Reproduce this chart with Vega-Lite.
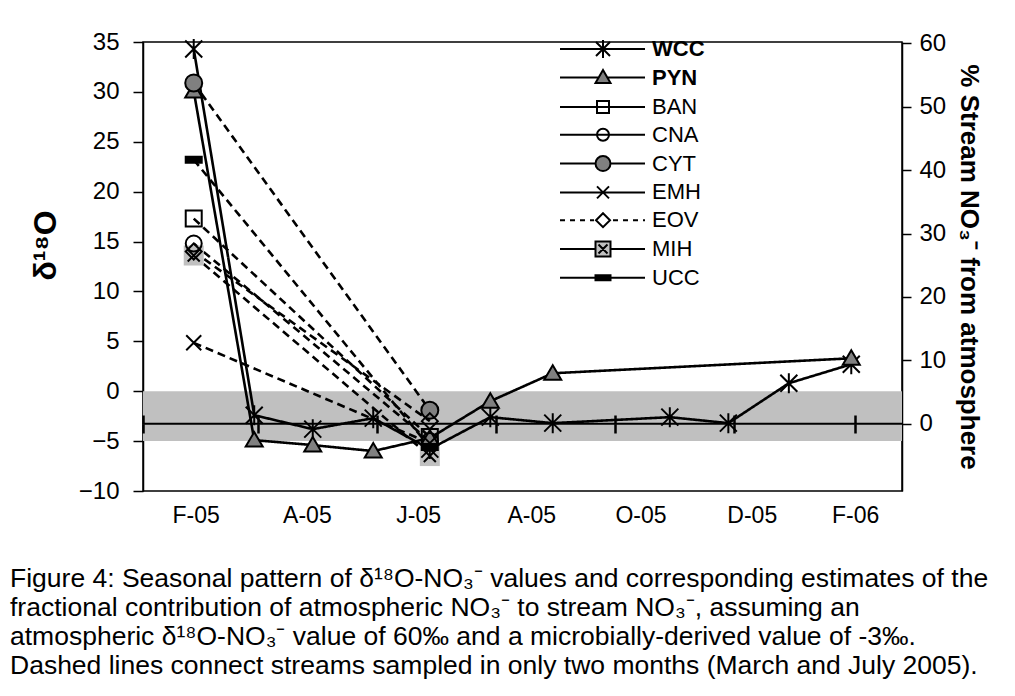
{
  "$schema": "https://vega.github.io/schema/vega-lite/v6.json",
  "width": 759,
  "height": 449,
  "autosize": {"type": "none"},
  "padding": {"left": 143, "top": 42, "right": 113, "bottom": 205},
  "background": "white",
  "config": {
    "font": "Liberation Sans",
    "view": {"stroke": "black", "strokeWidth": 1.5},
    "axis": {"labelColor": "black", "titleColor": "black", "domainColor": "black", "tickColor": "black", "grid": false, "labelFont": "Liberation Sans", "titleFont": "Liberation Sans"},
    "legend": {"titleFont": "Liberation Sans", "labelFont": "Liberation Sans"}
  },
  "title": {
    "text": [
      "Figure 4:  Seasonal pattern of δ¹⁸O-NO₃⁻ values and corresponding estimates of the",
      "fractional contribution of atmospheric NO₃⁻ to stream NO₃⁻, assuming an",
      "atmospheric δ¹⁸O-NO₃⁻ value of 60‰ and a microbially-derived value of -3‰.",
      "Dashed lines connect streams sampled in only two months (March and July 2005)."
    ],
    "orient": "bottom",
    "anchor": "start",
    "frame": "group",
    "align": "left",
    "dx": -133,
    "offset": 39,
    "fontSize": 26.5,
    "font": "Liberation Sans",
    "fontWeight": "normal",
    "color": "black",
    "lineHeight": 29
  },
  "datasets": {
    "band": [{"lo": -5, "hi": 0}],
    "ref": [{"microbial": -3.25}],
    "obs": [
      {"site": "WCC", "date": "2005-02-27", "d18O": 34.3},
      {"site": "WCC", "date": "2005-03-30", "d18O": -2.4},
      {"site": "WCC", "date": "2005-04-29", "d18O": -3.8},
      {"site": "WCC", "date": "2005-05-30", "d18O": -2.7},
      {"site": "WCC", "date": "2005-06-28", "d18O": -5.8},
      {"site": "WCC", "date": "2005-07-29", "d18O": -2.6},
      {"site": "WCC", "date": "2005-08-30", "d18O": -3.2},
      {"site": "WCC", "date": "2005-10-29", "d18O": -2.6},
      {"site": "WCC", "date": "2005-11-28", "d18O": -3.2},
      {"site": "WCC", "date": "2005-12-29", "d18O": 0.8},
      {"site": "WCC", "date": "2006-01-30", "d18O": 2.7},
      {"site": "PYN", "date": "2005-02-27", "d18O": 30.1},
      {"site": "PYN", "date": "2005-03-30", "d18O": -4.9},
      {"site": "PYN", "date": "2005-04-29", "d18O": -5.4},
      {"site": "PYN", "date": "2005-05-30", "d18O": -6.0},
      {"site": "PYN", "date": "2005-06-28", "d18O": -4.7},
      {"site": "PYN", "date": "2005-07-29", "d18O": -1.0},
      {"site": "PYN", "date": "2005-08-30", "d18O": 1.8},
      {"site": "PYN", "date": "2006-01-30", "d18O": 3.3},
      {"site": "BAN", "date": "2005-02-27", "d18O": 17.3},
      {"site": "BAN", "date": "2005-06-28", "d18O": -4.6},
      {"site": "CNA", "date": "2005-02-27", "d18O": 14.8},
      {"site": "CNA", "date": "2005-06-28", "d18O": -5.0},
      {"site": "CYT", "date": "2005-02-27", "d18O": 30.9},
      {"site": "CYT", "date": "2005-06-28", "d18O": -1.9},
      {"site": "EMH", "date": "2005-02-27", "d18O": 4.85},
      {"site": "EMH", "date": "2005-06-28", "d18O": -5.2},
      {"site": "EOV", "date": "2005-02-27", "d18O": 14.0},
      {"site": "EOV", "date": "2005-06-28", "d18O": -3.0},
      {"site": "MIH", "date": "2005-02-27", "d18O": 13.6},
      {"site": "MIH", "date": "2005-06-28", "d18O": -6.5},
      {"site": "UCC", "date": "2005-02-27", "d18O": 23.2},
      {"site": "UCC", "date": "2005-06-28", "d18O": -5.6}
    ]
  },
  "resolve": {"axis": {"x": "independent", "y": "independent"}, "scale": {"shape": "independent", "fill": "independent"}},
  "layer": [
    {
      "data": {"name": "band"},
      "mark": {"type": "rect", "color": "#c0c0c0", "opacity": 1},
      "encoding": {
        "y": {"field": "lo", "type": "quantitative", "scale": {"domain": [-10, 35], "nice": false, "zero": false}, "axis": null},
        "y2": {"field": "hi"}
      }
    },
    {
      "data": {"name": "ref"},
      "mark": {"type": "rule", "color": "black", "strokeWidth": 2},
      "encoding": {
        "y": {
          "field": "microbial", "type": "quantitative",
          "scale": {"domain": [-10, 35], "nice": false, "zero": false},
          "axis": {
            "orient": "right",
            "values": [-3.25, 3.1, 9.45, 15.8, 22.15, 28.5, 34.85],
            "labelExpr": "format((datum.value + 3.25) * 1.5748, '.0f')",
            "tickSize": 9, "tickWidth": 1.5, "domainWidth": 1.5,
            "labelFontSize": 24, "labelPadding": 8,
            "title": "% Stream NO₃⁻ from atmosphere", "titleFontSize": 26, "titleFontWeight": "bold", "titlePadding": 10
          }
        }
      }
    },
    {
      "data": {"name": "obs"},
      "mark": {"type": "line", "color": "black", "strokeWidth": 2.6},
      "encoding": {
        "x": {
          "field": "date", "type": "temporal",
          "scale": {"type": "utc", "nice": false, "domain": [{"year": 2005, "month": 2, "date": 1, "utc": true}, {"year": 2006, "month": 2, "date": 25, "utc": true}]},
          "axis": {
            "orient": "bottom", "offset": -67, "zindex": 1,
            "values": [
              {"year": 2005, "month": 2, "date": 1, "utc": true},
              {"year": 2005, "month": 4, "date": 1, "utc": true},
              {"year": 2005, "month": 6, "date": 1, "utc": true},
              {"year": 2005, "month": 8, "date": 1, "utc": true},
              {"year": 2005, "month": 10, "date": 1, "utc": true},
              {"year": 2005, "month": 12, "date": 1, "utc": true},
              {"year": 2006, "month": 2, "date": 1, "utc": true}
            ],
            "labels": false, "domain": false, "ticks": true, "tickSize": 9, "tickWidth": 2.5, "title": null, "grid": false
          }
        },
        "y": {
          "field": "d18O", "type": "quantitative",
          "scale": {"domain": [-10, 35], "nice": false, "zero": false},
          "axis": {
            "orient": "left", "values": [-10, -5, 0, 5, 10, 15, 20, 25, 30, 35],
            "tickSize": 10, "tickWidth": 1.5, "domainWidth": 1.5,
            "labelFontSize": 24, "labelPadding": 14,
            "title": "δ¹⁸O", "titleFontSize": 32, "titleFontWeight": "bold", "titlePadding": 16, "titleY": 203
          }
        },
        "detail": {"field": "site"},
        "strokeDash": {
          "field": "site", "type": "nominal",
          "scale": {
            "domain": ["WCC", "PYN", "UCC", "BAN", "CNA", "CYT", "EMH", "EOV", "MIH"],
            "range": [[1, 0], [1, 0], [8, 5], [8, 5], [8, 5], [8, 5], [8, 5], [8, 5], [8, 5]]
          },
          "legend": null
        }
      }
    },
    {
      "data": {"name": "obs"},
      "transform": [{"filter": "datum.site === 'MIH'"}],
      "mark": {"type": "point", "shape": "square", "size": 400, "fill": "#c0c0c0", "strokeWidth": 0, "opacity": 1},
      "encoding": {
        "x": {
          "field": "date", "type": "temporal",
          "scale": {"type": "utc", "nice": false, "domain": [{"year": 2005, "month": 2, "date": 1, "utc": true}, {"year": 2006, "month": 2, "date": 25, "utc": true}]},
          "axis": {
            "orient": "bottom", "offset": -67, "zindex": 1,
            "values": [
              {"year": 2005, "month": 2, "date": 1, "utc": true},
              {"year": 2005, "month": 4, "date": 1, "utc": true},
              {"year": 2005, "month": 6, "date": 1, "utc": true},
              {"year": 2005, "month": 8, "date": 1, "utc": true},
              {"year": 2005, "month": 10, "date": 1, "utc": true},
              {"year": 2005, "month": 12, "date": 1, "utc": true},
              {"year": 2006, "month": 2, "date": 1, "utc": true}
            ],
            "labels": false, "domain": false, "ticks": true, "tickSize": -9, "tickWidth": 2.5, "title": null, "grid": false
          }
        },
        "y": {"field": "d18O", "type": "quantitative", "scale": {"domain": [-10, 35], "nice": false, "zero": false}, "axis": null}
      }
    },
    {
      "data": {"name": "obs"},
      "mark": {"type": "point", "size": 400, "stroke": "black", "strokeWidth": 2, "opacity": 1},
      "encoding": {
        "x": {
          "field": "date", "type": "temporal",
          "scale": {"type": "utc", "nice": false, "domain": [{"year": 2005, "month": 2, "date": 1, "utc": true}, {"year": 2006, "month": 2, "date": 25, "utc": true}]},
          "axis": {
            "orient": "bottom",
            "values": [
              {"year": 2005, "month": 2, "date": 28, "utc": true},
              {"year": 2005, "month": 4, "date": 26, "utc": true},
              {"year": 2005, "month": 6, "date": 22, "utc": true},
              {"year": 2005, "month": 8, "date": 19, "utc": true},
              {"year": 2005, "month": 10, "date": 14, "utc": true},
              {"year": 2005, "month": 12, "date": 10, "utc": true},
              {"year": 2006, "month": 2, "date": 1, "utc": true}
            ],
            "labelExpr": "substring(utcFormat(datum.value, '%b'), 0, 1) + '-' + utcFormat(datum.value, '%y')",
            "domain": false, "ticks": false, "labelFontSize": 23, "labelPadding": 13,
            "labelFlush": false, "labelOverlap": false, "title": null, "grid": false
          }
        },
        "y": {"field": "d18O", "type": "quantitative", "scale": {"domain": [-10, 35], "nice": false, "zero": false}, "axis": null},
        "fill": {
          "field": "site", "type": "nominal",
          "scale": {
            "domain": ["PYN", "CYT", "UCC", "WCC", "BAN", "CNA", "EMH", "EOV", "MIH"],
            "range": ["#808080", "#808080", "black", "transparent", "transparent", "transparent", "transparent", "transparent", "transparent"]
          },
          "legend": null
        },
        "shape": {
          "field": "site", "type": "nominal",
          "scale": {
            "domain": ["WCC", "PYN", "BAN", "CNA", "CYT", "EMH", "EOV", "MIH", "UCC"],
            "range": [
              "M0,-1V1M-0.85,-0.85L0.85,0.85M-0.85,0.85L0.85,-0.85",
              "M0,-0.8L0.85,0.65L-0.85,0.65Z",
              "M-0.8,-0.8H0.8V0.8H-0.8Z",
              "M-0.8,0A0.8,0.8,0,1,0,0.8,0A0.8,0.8,0,1,0,-0.8,0Z",
              "M-0.85,0A0.85,0.85,0,1,0,0.85,0A0.85,0.85,0,1,0,-0.85,0Z",
              "M-0.75,-0.75L0.75,0.75M-0.75,0.75L0.75,-0.75",
              "M0,-0.8L0.8,0L0,0.8L-0.8,0Z",
              "M-0.6,-0.6L0.6,0.6M-0.6,0.6L0.6,-0.6",
              "M-0.8,-0.3H0.8V0.3H-0.8Z"
            ]
          },
          "legend": null
        }
      }
    },
    {
      "data": {"name": "obs"},
      "transform": [{"filter": "false"}],
      "mark": {"type": "point", "size": 400, "stroke": "black", "strokeWidth": 2, "opacity": 1},
      "encoding": {
        "shape": {
          "field": "site", "type": "nominal",
          "scale": {
            "domain": ["WCC", "PYN"],
            "range": [
              "M-4.3,0H4.2M0,-0.9V0.9M-0.7,-0.7L0.7,0.7M-0.7,0.7L0.7,-0.7",
              "M-4.3,0H-0.43M0.43,0H4.2M0,-0.75L0.75,0.55L-0.75,0.55Z"
            ]
          },
          "legend": {
            "title": null, "orient": "none", "legendX": 449, "legendY": -4, "padding": 0,
            "symbolSize": 400, "symbolStrokeWidth": 2,
            "labelFontSize": 22, "labelFontWeight": "bold", "labelOffset": 38, "rowPadding": 3.5, "labelColor": "black"
          }
        },
        "fill": {
          "field": "site", "type": "nominal",
          "scale": {"domain": ["WCC", "PYN"], "range": ["transparent", "#808080"]},
          "legend": {
            "title": null, "orient": "none", "legendX": 449, "legendY": -4, "padding": 0,
            "symbolSize": 400, "symbolStrokeWidth": 2,
            "labelFontSize": 22, "labelFontWeight": "bold", "labelOffset": 38, "rowPadding": 3.5, "labelColor": "black"
          }
        }
      }
    },
    {
      "data": {"name": "obs"},
      "transform": [{"filter": "false"}],
      "mark": {"type": "point", "size": 400, "stroke": "black", "strokeWidth": 2, "opacity": 1},
      "encoding": {
        "shape": {
          "field": "site", "type": "nominal",
          "scale": {
            "domain": ["BAN", "CNA", "CYT", "EMH", "EOV", "MIH", "UCC"],
            "range": [
              "M-4.3,0H4.2M-0.6,-0.6H0.6V0.6H-0.6Z",
              "M-4.3,0H4.2M-0.6,0A0.6,0.6,0,1,0,0.6,0A0.6,0.6,0,1,0,-0.6,0Z",
              "M-4.3,0H-0.75M0.75,0H4.2M-0.75,0A0.75,0.75,0,1,0,0.75,0A0.75,0.75,0,1,0,-0.75,0Z",
              "M-4.3,0H4.2M-0.6,-0.6L0.6,0.6M-0.6,0.6L0.6,-0.6",
              "M-4.3,0H-3.8M-3.3,0H-2.8M-2.3,0H-1.8M-1.3,0H-0.9M1.0,0H1.5M2.0,0H2.5M3.0,0H3.5M4.0,0H4.2M0,-0.7L0.7,0L0,0.7L-0.7,0Z",
              "M-4.3,0H-0.75M0.75,0H4.2M-0.75,-0.75H0.75V0.75H-0.75ZM-0.45,-0.45L0.45,0.45M-0.45,0.45L0.45,-0.45",
              "M-4.3,0H4.2M-0.75,-0.25H0.75V0.25H-0.75Z"
            ]
          },
          "legend": {
            "title": null, "orient": "none", "legendX": 449, "legendY": 54, "padding": 0,
            "symbolSize": 400, "symbolStrokeWidth": 2,
            "labelFontSize": 22, "labelFontWeight": "normal", "labelOffset": 38, "rowPadding": 5.8, "labelColor": "black"
          }
        },
        "fill": {
          "field": "site", "type": "nominal",
          "scale": {
            "domain": ["BAN", "CNA", "CYT", "EMH", "EOV", "MIH", "UCC"],
            "range": ["transparent", "transparent", "#808080", "transparent", "transparent", "#c0c0c0", "black"]
          },
          "legend": {
            "title": null, "orient": "none", "legendX": 449, "legendY": 54, "padding": 0,
            "symbolSize": 400, "symbolStrokeWidth": 2,
            "labelFontSize": 22, "labelFontWeight": "normal", "labelOffset": 38, "rowPadding": 5.8, "labelColor": "black"
          }
        }
      }
    }
  ]
}
